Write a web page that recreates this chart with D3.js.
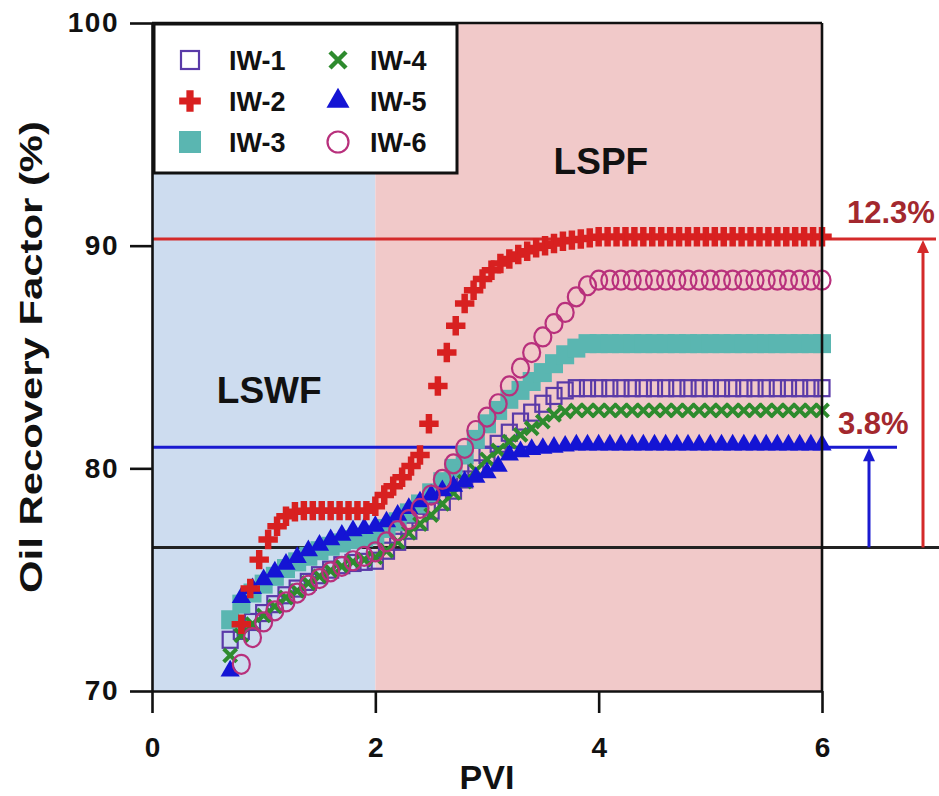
<!DOCTYPE html>
<html><head><meta charset="utf-8">
<script src="https://cdn.jsdelivr.net/npm/d3@7"></script>
<style>body{margin:0;background:#fff}svg{display:block}</style>
</head><body><svg id="c" width="939" height="796"></svg>
<script>
// ---- data ----
const seriesNames = ["IW-1","IW-2","IW-3","IW-4","IW-5","IW-6"];
const xTicks = [0,2,4,6];
const yTicks = [70,80,90,100];
const pvi = [0.7,0.8,0.9,1.0,1.1,1.2,1.3,1.4,1.5,1.6,1.7,1.8,1.9,2.0,2.1,2.2,2.3,2.4,2.5,2.6,2.7,2.8,2.9,3.0,3.1,3.2,3.3,3.4,3.5,3.6,3.7,3.8,3.9,4.0,4.1,4.2,4.3,4.4,4.5,4.6,4.7,4.8,4.9,5.0,5.1,5.2,5.3,5.4,5.5,5.6,5.7,5.8,5.9,6.0];
const rfIW1 = [72.3,72.7,73.1,73.5,73.9,74.3,74.6,74.9,75.2,75.45,75.65,75.75,75.8,75.85,76.3,76.7,77.2,77.6,78.1,78.5,79.0,79.5,80.0,80.6,81.1,81.6,82.1,82.5,82.9,83.25,83.5,83.6,83.6,83.6,83.6,83.6,83.6,83.6,83.6,83.6,83.6,83.6,83.6,83.6,83.6,83.6,83.6,83.6,83.6,83.6,83.6,83.6,83.6,83.6];
const pviIW2 = [0.80,0.88,0.96,1.04,1.12,1.20,1.28,1.36,1.44,1.52,1.60,1.68,1.76,1.84,1.92,2.00,2.08,2.16,2.24,2.32,2.40,2.48,2.56,2.64,2.72,2.80,2.88,2.96,3.04,3.12,3.20,3.28,3.36,3.44,3.52,3.60,3.68,3.76,3.84,3.92,4.00,4.08,4.16,4.24,4.32,4.40,4.48,4.56,4.64,4.72,4.80,4.88,4.96,5.04,5.12,5.20,5.28,5.36,5.44,5.52,5.60,5.68,5.76,5.84,5.92,6.00];
const rfIW2 = [73.0,74.6,75.9,76.8,77.4,77.85,78.05,78.1,78.1,78.1,78.1,78.1,78.1,78.1,78.1,78.3,78.8,79.2,79.6,80.1,80.6,82.0,83.7,85.2,86.4,87.4,88.0,88.5,88.9,89.2,89.4,89.6,89.75,89.9,90.0,90.1,90.2,90.25,90.3,90.35,90.4,90.4,90.4,90.4,90.4,90.4,90.4,90.4,90.4,90.4,90.4,90.4,90.4,90.4,90.4,90.4,90.4,90.4,90.4,90.4,90.4,90.4,90.4,90.4,90.4,90.4];
const rfIW3 = [73.2,73.9,74.4,74.8,75.15,75.5,75.8,76.05,76.3,76.5,76.65,76.8,76.9,77.0,77.3,77.6,78.0,78.4,78.9,79.4,80.0,80.6,81.3,82.0,82.6,83.1,83.5,83.9,84.3,84.7,85.1,85.4,85.6,85.6,85.6,85.6,85.6,85.6,85.6,85.6,85.6,85.6,85.6,85.6,85.6,85.6,85.6,85.6,85.6,85.6,85.6,85.6,85.6,85.6];
const rfIW4 = [71.6,72.5,73.0,73.4,73.8,74.2,74.5,74.85,75.15,75.4,75.6,75.8,75.9,76.0,76.3,76.7,77.1,77.5,77.9,78.4,78.9,79.4,79.9,80.4,80.8,81.2,81.5,81.8,82.1,82.4,82.55,82.6,82.6,82.6,82.6,82.6,82.6,82.6,82.6,82.6,82.6,82.6,82.6,82.6,82.6,82.6,82.6,82.6,82.6,82.6,82.6,82.6,82.6,82.6];
const rfIW5 = [70.9,74.2,74.6,75.0,75.35,75.7,76.0,76.3,76.55,76.8,77.0,77.2,77.3,77.4,77.6,77.9,78.2,78.5,78.8,79.0,79.2,79.4,79.6,79.8,80.1,80.6,80.75,80.85,80.9,80.95,81.0,81.05,81.05,81.05,81.05,81.05,81.05,81.05,81.05,81.05,81.05,81.05,81.05,81.05,81.05,81.05,81.05,81.05,81.05,81.05,81.05,81.05,81.05,81.05];
const rfIW6 = [null,71.2,72.4,73.1,73.6,74.0,74.4,74.75,75.05,75.35,75.6,75.85,76.05,76.25,76.7,77.2,77.7,78.2,78.8,79.5,80.2,80.9,81.7,82.3,82.9,83.7,84.5,85.2,85.9,86.5,87.0,87.7,88.2,88.45,88.45,88.45,88.45,88.45,88.45,88.45,88.45,88.45,88.45,88.45,88.45,88.45,88.45,88.45,88.45,88.45,88.45,88.45,88.45,88.45];
const regionLabels = ["LSWF","LSPF"];
const regionSplit = 2;
const maxLevel = 90.3, iw5Level = 80.95, baseLevel = 76.45;
const gainLabels = ["12.3%","3.8%"];

// ---- drawing ----
const svg = d3.select("#c");
const x = d3.scaleLinear().domain([0,6]).range([152,822]);
const y = d3.scaleLinear().domain([70,100]).range([691,23]);
const FONT = "'Liberation Sans', Arial, Helvetica, sans-serif";

// regions
svg.append("rect").attr("x",x(0)).attr("y",y(100)).attr("width",x(regionSplit)-x(0)).attr("height",y(70)-y(100)).attr("fill","#cddcef");
svg.append("rect").attr("x",x(regionSplit)).attr("y",y(100)).attr("width",x(6)-x(regionSplit)).attr("height",y(70)-y(100)).attr("fill","#f1c9c9");

// reference lines
svg.append("line").attr("x1",x(0)).attr("x2",x(6)+114).attr("y1",y(maxLevel)).attr("y2",y(maxLevel)).attr("stroke","#d42a2a").attr("stroke-width",3);
svg.append("line").attr("x1",x(0)).attr("x2",x(6)+75).attr("y1",y(iw5Level)).attr("y2",y(iw5Level)).attr("stroke","#1a1ad0").attr("stroke-width",3);
svg.append("line").attr("x1",x(0)).attr("x2",939).attr("y1",y(baseLevel)).attr("y2",y(baseLevel)).attr("stroke","#222").attr("stroke-width",3);

// series
function pts(xs, ys){ return xs.map((v,i)=>({x:v,y:ys[i]})).filter(d=>d.y!=null); }
function plot(data, draw){
  const g = svg.append("g");
  data.forEach(d=>{ draw(g.append("g").attr("transform",`translate(${x(d.x)},${y(d.y)})`)); });
}
const squareHollow = g => g.append("rect").attr("x",-7.5).attr("y",-8).attr("width",15).attr("height",16).attr("fill","none").attr("stroke","#5a3aa8").attr("stroke-width",2.2);
const squareFill = g => g.append("rect").attr("x",-9).attr("y",-9.5).attr("width",18).attr("height",19).attr("fill","#5ab6b1");
const plus = g => g.append("path").attr("d",d3.symbol(d3.symbolCross,210)()).attr("fill","#d82020");
const cross = g => g.append("path").attr("d","M-6.5,-6.5L6.5,6.5M6.5,-6.5L-6.5,6.5").attr("stroke","#2e8b2e").attr("stroke-width",4).attr("fill","none");
const tri = g => g.append("path").attr("d",d3.symbol(d3.symbolTriangle,160)()).attr("fill","#1414d4");
const circ = g => g.append("ellipse").attr("rx",8.5).attr("ry",9.5).attr("fill","none").attr("stroke","#b8307c").attr("stroke-width",2.2);

plot(pts(pvi,rfIW1), squareHollow);
plot(pts(pvi,rfIW3), squareFill);
plot(pts(pvi,rfIW4), cross);
plot(pts(pvi,rfIW5), tri);
plot(pts(pvi,rfIW6), circ);
plot(pts(pviIW2,rfIW2), plus);

// axes
const xAxis = d3.axisBottom(x).tickValues(xTicks).tickSize(22).tickSizeOuter(0).tickPadding(24).tickFormat(d3.format("d"));
const yAxis = d3.axisLeft(y).tickValues(yTicks).tickSize(22).tickSizeOuter(0).tickPadding(11).tickFormat(d3.format("d"));
const gx = svg.append("g").attr("transform",`translate(0,${y(70)})`).call(xAxis);
const gy = svg.append("g").attr("transform",`translate(${x(0)},0)`).call(yAxis);
[gx,gy].forEach(g=>{
  g.selectAll("path,line").attr("stroke","#111").attr("stroke-width",2.6);
  g.selectAll("text").attr("font-family",FONT).attr("font-weight","bold").attr("font-size",28).attr("fill","#111");
});
gy.selectAll("text").attr("letter-spacing",1.5);
// frame top/right
svg.append("line").attr("x1",x(0)).attr("x2",x(6)).attr("y1",y(100)).attr("y2",y(100)).attr("stroke","#111").attr("stroke-width",2.6);
svg.append("line").attr("x1",x(6)).attr("x2",x(6)).attr("y1",y(100)).attr("y2",y(70)).attr("stroke","#111").attr("stroke-width",2.6);

// axis titles
svg.append("text").attr("x",x(3)).attr("y",789).attr("text-anchor","middle").attr("font-family",FONT).attr("font-weight","bold").attr("font-size",34).attr("fill","#111").text("PVI");
svg.append("text").attr("transform",`translate(42,${(y(70)+y(100))/2}) rotate(-90)`).attr("text-anchor","middle").attr("font-family",FONT).attr("font-weight","bold").attr("font-size",32).attr("textLength",472).attr("lengthAdjust","spacingAndGlyphs").attr("fill","#111").text("Oil Recovery Factor (%)");

// region labels
svg.append("text").attr("x",x(1.05)).attr("y",403).attr("text-anchor","middle").attr("font-family",FONT).attr("font-weight","bold").attr("font-size",37).attr("fill","#111").text(regionLabels[0]);
svg.append("text").attr("x",x(4.02)).attr("y",174).attr("text-anchor","middle").attr("font-family",FONT).attr("font-weight","bold").attr("font-size",37).attr("fill","#111").text(regionLabels[1]);

// arrows
function arrow(xp, y0, y1, color){
  svg.append("line").attr("x1",xp).attr("x2",xp).attr("y1",y0).attr("y2",y1+10).attr("stroke",color).attr("stroke-width",3);
  svg.append("path").attr("d",`M${xp},${y1+1}L${xp-6},${y1+14}L${xp+6},${y1+14}Z`).attr("fill",color);
}
arrow(x(6)+101, y(baseLevel), y(maxLevel), "#d42a2a");
arrow(x(6)+47, y(baseLevel), y(iw5Level), "#1a1ad0");
svg.append("text").attr("x",x(6)+25).attr("y",y(maxLevel)-16).attr("font-family",FONT).attr("font-weight","bold").attr("font-size",31).attr("fill","#a3282e").text(gainLabels[0]);
svg.append("text").attr("x",x(6)+16).attr("y",y(iw5Level)-13).attr("font-family",FONT).attr("font-weight","bold").attr("font-size",31).attr("fill","#a3282e").text(gainLabels[1]);

// legend
const lg = svg.append("g");
lg.append("rect").attr("x",154).attr("y",24).attr("width",303).attr("height",149).attr("fill","#fff").attr("stroke","#111").attr("stroke-width",3);
const legendDraw = [
  g => g.append("rect").attr("x",-9).attr("y",-9).attr("width",18).attr("height",18).attr("fill","none").attr("stroke","#5a3aa8").attr("stroke-width",2.2),
  g => g.append("path").attr("d",d3.symbol(d3.symbolCross,260)()).attr("fill","#d82020"),
  g => g.append("rect").attr("x",-11).attr("y",-11).attr("width",22).attr("height",22).attr("fill","#5ab6b1"),
  g => g.append("path").attr("d","M-8,-8L8,8M8,-8L-8,8").attr("stroke","#2e8b2e").attr("stroke-width",4.5),
  g => g.append("path").attr("d",d3.symbol(d3.symbolTriangle,230)()).attr("fill","#1414d4"),
  g => g.append("circle").attr("r",10.5).attr("fill","none").attr("stroke","#b8307c").attr("stroke-width",2.2)
];
seriesNames.forEach((n,i)=>{
  const col = Math.floor(i/3), row = i%3;
  const cx = col ? 338 : 190, cy = 60 + row*41;
  legendDraw[i](lg.append("g").attr("transform",`translate(${cx},${cy})`));
  lg.append("text").attr("x",cx+(col?32:39)).attr("y",cy+10).attr("font-family",FONT).attr("font-weight","bold").attr("font-size",27).attr("fill","#111").text(n);
});
</script></body></html>
